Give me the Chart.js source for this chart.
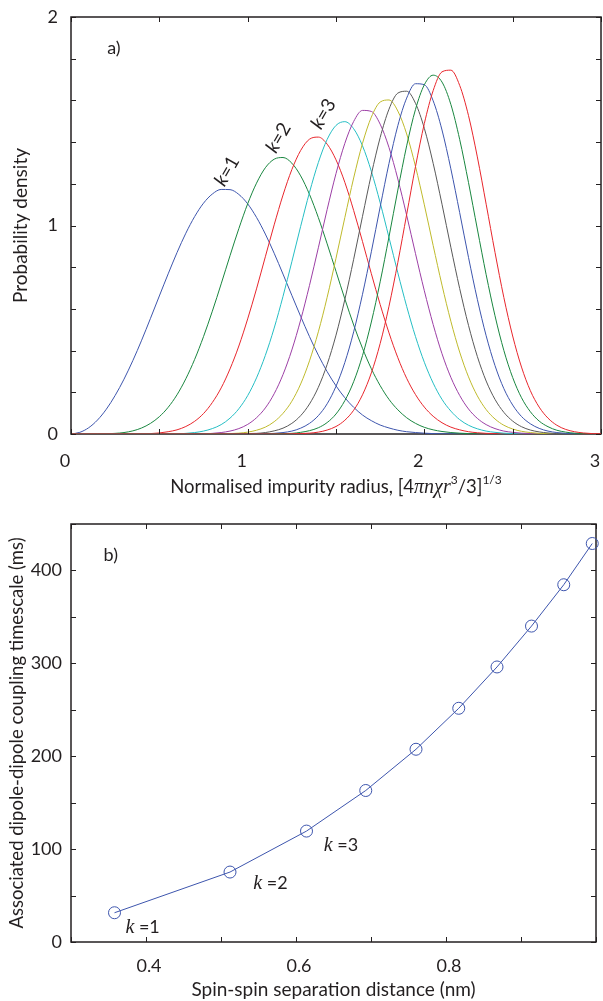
<!DOCTYPE html>
<html>
<head>
<meta charset="utf-8">
<script src="https://cdn.jsdelivr.net/npm/chart.js@4.4.1/dist/chart.umd.min.js"></script>
<style>
  html, body { margin: 0; padding: 0; background: #fff; }
  #wrap { position: relative; width: 603px; height: 1001px; }
  #top { position: absolute; left: 0; top: 0; }
  #bottom { position: absolute; left: 0; top: 500px; }
</style>
</head>
<body>
<div id="wrap">
  <canvas id="top" width="603" height="500"></canvas>
  <canvas id="bottom" width="603" height="501"></canvas>
</div>
<script>
// Panel a): probability density of the k-th nearest impurity
var radius = [
  0, 0.05, 0.1, 0.15, 0.2, 0.25, 0.3, 0.35, 0.4, 0.45,
  0.5, 0.55, 0.6, 0.65, 0.7, 0.75, 0.8, 0.85, 0.9, 0.95,
  1, 1.05, 1.1, 1.15, 1.2, 1.25, 1.3, 1.35, 1.4, 1.45,
  1.5, 1.55, 1.6, 1.65, 1.7, 1.75, 1.8, 1.85, 1.9, 1.95,
  2, 2.05, 2.1, 2.15, 2.2, 2.25, 2.3, 2.35, 2.4, 2.45,
  2.5, 2.55, 2.6, 2.65, 2.7, 2.75, 2.8, 2.85, 2.9, 2.95,
  3
];
var k1 = [
  0, 0.008, 0.030, 0.067, 0.119, 0.185, 0.263, 0.352, 0.450, 0.555,
  0.662, 0.768, 0.870, 0.963, 1.043, 1.107, 1.151, 1.173, 1.172, 1.149,
  1.104, 1.039, 0.959, 0.867, 0.767, 0.665, 0.564, 0.467, 0.378, 0.299,
  0.231, 0.174, 0.128, 0.091, 0.064, 0.043, 0.029, 0.018, 0.011, 0.007,
  0.004, 0.002, 0.001, 0.001, 0, 0, 0, 0, 0, 0,
  0, 0, 0, 0, 0, 0, 0, 0, 0, 0,
  0
];
var k2 = [
  0, 0, 0, 0, 0.001, 0.003, 0.007, 0.015, 0.029, 0.051,
  0.083, 0.128, 0.188, 0.265, 0.358, 0.467, 0.589, 0.720, 0.855, 0.985,
  1.104, 1.203, 1.277, 1.318, 1.326, 1.299, 1.238, 1.149, 1.038, 0.912,
  0.780, 0.648, 0.523, 0.411, 0.313, 0.232, 0.166, 0.116, 0.078, 0.051,
  0.032, 0.020, 0.012, 0.007, 0.004, 0.002, 0.001, 0, 0, 0,
  0, 0, 0, 0, 0, 0, 0, 0, 0, 0,
  0
];
var k3 = [
  0, 0, 0, 0, 0, 0, 0, 0, 0.001, 0.002,
  0.005, 0.011, 0.020, 0.036, 0.061, 0.098, 0.151, 0.221, 0.312, 0.422,
  0.552, 0.696, 0.850, 1.003, 1.146, 1.268, 1.360, 1.414, 1.424, 1.390,
  1.315, 1.207, 1.072, 0.923, 0.769, 0.621, 0.485, 0.366, 0.267, 0.189,
  0.129, 0.085, 0.054, 0.033, 0.020, 0.011, 0.006, 0.003, 0.002, 0.001,
  0, 0, 0, 0, 0, 0, 0, 0, 0, 0,
  0
];
var k4 = [
  0, 0, 0, 0, 0, 0, 0, 0, 0, 0,
  0, 0.001, 0.001, 0.003, 0.007, 0.014, 0.026, 0.045, 0.076, 0.121,
  0.184, 0.269, 0.377, 0.508, 0.660, 0.826, 0.996, 1.159, 1.302, 1.413,
  1.480, 1.498, 1.464, 1.382, 1.260, 1.109, 0.942, 0.773, 0.612, 0.467,
  0.344, 0.244, 0.166, 0.110, 0.069, 0.042, 0.025, 0.014, 0.008, 0.004,
  0.002, 0.001, 0, 0, 0, 0, 0, 0, 0, 0,
  0
];
var k5 = [
  0, 0, 0, 0, 0, 0, 0, 0, 0, 0,
  0, 0, 0, 0, 0.001, 0.001, 0.003, 0.007, 0.014, 0.026,
  0.046, 0.078, 0.125, 0.193, 0.285, 0.403, 0.547, 0.713, 0.893, 1.077,
  1.249, 1.394, 1.499, 1.552, 1.547, 1.486, 1.374, 1.223, 1.049, 0.865,
  0.687, 0.525, 0.385, 0.272, 0.185, 0.120, 0.075, 0.045, 0.026, 0.014,
  0.008, 0.004, 0.002, 0.001, 0, 0, 0, 0, 0, 0,
  0
];
var k6 = [
  0, 0, 0, 0, 0, 0, 0, 0, 0, 0,
  0, 0, 0, 0, 0, 0, 0, 0.001, 0.002, 0.004,
  0.009, 0.018, 0.033, 0.059, 0.099, 0.157, 0.240, 0.351, 0.490, 0.656,
  0.843, 1.038, 1.228, 1.394, 1.520, 1.592, 1.602, 1.549, 1.439, 1.283,
  1.099, 0.904, 0.714, 0.541, 0.393, 0.274, 0.183, 0.117, 0.072, 0.042,
  0.024, 0.013, 0.007, 0.003, 0.002, 0.001, 0, 0, 0, 0,
  0
];
var k7 = [
  0, 0, 0, 0, 0, 0, 0, 0, 0, 0,
  0, 0, 0, 0, 0, 0, 0, 0, 0, 0.001,
  0.002, 0.003, 0.007, 0.015, 0.028, 0.051, 0.088, 0.144, 0.224, 0.334,
  0.474, 0.645, 0.838, 1.044, 1.245, 1.422, 1.558, 1.635, 1.644, 1.586,
  1.466, 1.298, 1.102, 0.896, 0.698, 0.521, 0.372, 0.254, 0.166, 0.104,
  0.062, 0.035, 0.019, 0.010, 0.005, 0.002, 0.001, 0, 0, 0,
  0
];
var k8 = [
  0, 0, 0, 0, 0, 0, 0, 0, 0, 0,
  0, 0, 0, 0, 0, 0, 0, 0, 0, 0,
  0, 0.001, 0.001, 0.003, 0.007, 0.014, 0.028, 0.051, 0.088, 0.145,
  0.229, 0.343, 0.490, 0.670, 0.874, 1.089, 1.298, 1.479, 1.611, 1.680,
  1.675, 1.598, 1.458, 1.272, 1.062, 0.847, 0.646, 0.471, 0.328, 0.218,
  0.139, 0.084, 0.049, 0.027, 0.014, 0.007, 0.003, 0.002, 0.001, 0,
  0
];
var k9 = [
  0, 0, 0, 0, 0, 0, 0, 0, 0, 0,
  0, 0, 0, 0, 0, 0, 0, 0, 0, 0,
  0, 0, 0, 0.001, 0.002, 0.003, 0.008, 0.016, 0.030, 0.055,
  0.096, 0.160, 0.251, 0.376, 0.537, 0.730, 0.946, 1.170, 1.382, 1.557,
  1.675, 1.721, 1.688, 1.581, 1.413, 1.206, 0.983, 0.764, 0.567, 0.401,
  0.271, 0.174, 0.107, 0.062, 0.035, 0.018, 0.009, 0.004, 0.002, 0.001,
  0
];
var k10 = [
  0, 0, 0, 0, 0, 0, 0, 0, 0, 0,
  0, 0, 0, 0, 0, 0, 0, 0, 0, 0,
  0, 0, 0, 0, 0, 0.001, 0.002, 0.004, 0.009, 0.019,
  0.036, 0.066, 0.114, 0.188, 0.293, 0.434, 0.613, 0.823, 1.053, 1.283,
  1.489, 1.647, 1.737, 1.745, 1.672, 1.527, 1.329, 1.102, 0.871, 0.655,
  0.470, 0.321, 0.208, 0.129, 0.076, 0.042, 0.022, 0.011, 0.005, 0.002,
  0.001
];
var densities = [k1, k2, k3, k4, k5, k6, k7, k8, k9, k10];
var curveColors = ['#3d55ad', '#19863f', '#e8262c', '#25bec4', '#9c3fa5',
                   '#bfba2c', '#595959', '#3d55ad', '#19863f', '#e8262c'];

// Panel b): coupling timescale for k = 1..10
var separation = [0.358, 0.512, 0.614, 0.693, 0.760, 0.817, 0.868, 0.914, 0.957, 0.995];
var timescale = [31.5, 75.3, 119.4, 163.1, 207.5, 251.6, 296.1, 340.1, 384.6, 429.0];

var SANS = 'Lato, "Open Sans", sans-serif';
var SERIF = '"Liberation Serif", "DejaVu Serif", serif';
var INK = '#231f20';
var BLUE = '#3d55ad';

function drawParts(ctx, parts, x, y, rot) {
    ctx.save();
    ctx.translate(x, y);
    if (rot) ctx.rotate(rot * Math.PI / 180);
    ctx.fillStyle = INK;
    ctx.textBaseline = 'alphabetic';
    ctx.textAlign = 'left';
    var w = 0;
    parts.forEach(function (p) { ctx.font = p.f; w += ctx.measureText(p.t).width; });
    var cx = -w / 2;
    parts.forEach(function (p) {
        ctx.font = p.f;
        ctx.fillText(p.t, cx, 6 + (p.dy || 0));
        cx += ctx.measureText(p.t).width;
    });
    ctx.restore();
}

// box, inward tick marks and free text (MATLAB look)
var inkPlugin = {
    id: 'ink',
    beforeDatasetsDraw: function (chart, args, o) {
        var ctx = chart.ctx, a = chart.chartArea;
        ctx.save();
        ctx.strokeStyle = INK;
        ctx.lineWidth = o.box;
        ctx.strokeRect(a.left, a.top, a.right - a.left, a.bottom - a.top);
        ctx.restore();
    },
    afterDraw: function (chart, args, o) {
        var ctx = chart.ctx, a = chart.chartArea;
        var xs = chart.scales.x, ys = chart.scales.y;
        ctx.save();
        ctx.strokeStyle = INK;
        ctx.lineWidth = 1;
        ctx.beginPath();
        xs.ticks.forEach(function (t) {
            var px = Math.round(xs.getPixelForValue(t.value)) + 0.5;
            ctx.moveTo(px, a.bottom); ctx.lineTo(px, a.bottom - o.tick);
            ctx.moveTo(px, a.top); ctx.lineTo(px, a.top + o.tick);
        });
        ys.ticks.forEach(function (t) {
            var py = Math.round(ys.getPixelForValue(t.value)) + 0.5;
            ctx.moveTo(a.left, py); ctx.lineTo(a.left + o.tick, py);
            ctx.moveTo(a.right, py); ctx.lineTo(a.right - o.tick, py);
        });
        ctx.stroke();
        ctx.restore();

        o.notes.forEach(function (n) {
            drawParts(ctx, n.parts, xs.getPixelForValue(n.x), ys.getPixelForValue(n.y), n.rot);
        });
        drawParts(ctx, o.xTitle, (a.left + a.right) / 2, o.xTitleY, 0);
        drawParts(ctx, o.yTitle, o.yTitleX, (a.top + a.bottom) / 2, -90);
    }
};

function tickFont() {
    return { family: SANS, size: 18 };
}

function kLabel(n, serif) {
    if (serif) {
        return [{ t: 'k', f: 'italic 20px ' + SERIF }, { t: ' =' + n, f: '18px ' + SANS }];
    }
    return [{ t: 'k', f: 'italic 19px ' + SANS }, { t: '=' + n, f: '19px ' + SANS }];
}

function createDensityChart() {
    var datasets = densities.map(function (arr, i) {
        return {
            data: radius.map(function (r, j) { return { x: r, y: arr[j] }; }),
            borderColor: curveColors[i],
            borderWidth: 1,
            pointRadius: 0,
            cubicInterpolationMode: 'monotone',
            order: densities.length - i
        };
    });
    new Chart(document.getElementById('top'), {
        type: 'line',
        data: { datasets: datasets },
        options: {
            responsive: false,
            animation: false,
            layout: { padding: { top: 17, right: 2, left: 0, bottom: 0 } },
            plugins: {
                legend: { display: false },
                tooltip: { enabled: false },
                ink: {
                    box: 1.5,
                    tick: 5,
                    notes: [
                        { x: 0.243, y: 1.851, parts: [{ t: 'a)', f: '18px ' + SANS }] },
                        { x: 0.884, y: 1.261, rot: -60, parts: kLabel(1, false) },
                        { x: 1.175, y: 1.42, rot: -60, parts: kLabel(2, false) },
                        { x: 1.43, y: 1.535, rot: -60, parts: kLabel(3, false) }
                    ],
                    xTitleY: 487,
                    xTitle: [
                        { t: 'Normalised impurity radius, [4', f: '18.5px ' + SANS },
                        { t: '\u03c0n\u03c7r', f: 'italic 20px ' + SERIF },
                        { t: '3', f: '12px ' + SANS, dy: -9 },
                        { t: '/3]', f: '18.5px ' + SANS },
                        { t: '1/3', f: '12px ' + SANS, dy: -9 }
                    ],
                    yTitleX: 21,
                    yTitle: [{ t: 'Probability density', f: '19px ' + SANS }]
                }
            },
            scales: {
                x: {
                    type: 'linear', min: 0, max: 3,
                    grid: { display: false, drawTicks: false }, border: { display: false },
                    ticks: {
                        stepSize: 0.5, maxRotation: 0, autoSkip: false,
                        padding: 16, labelOffset: -6, color: INK, font: tickFont(),
                        callback: function (v) { return Math.abs(v - Math.round(v)) < 1e-6 ? Math.round(v) : ''; }
                    },
                    afterFit: function (s) { s.height = 66; s.paddingLeft = 0; s.paddingRight = 0; }
                },
                y: {
                    min: 0, max: 2,
                    grid: { display: false, drawTicks: false }, border: { display: false },
                    ticks: {
                        stepSize: 0.2, autoSkip: false, padding: 13, color: INK, font: tickFont(),
                        callback: function (v) { return Math.abs(v - Math.round(v)) < 1e-6 ? Math.round(v) : ''; }
                    },
                    afterFit: function (s) { s.width = 71; s.paddingTop = 0; s.paddingBottom = 0; }
                }
            }
        },
        plugins: [inkPlugin]
    });
}

function createTimescaleChart() {
    new Chart(document.getElementById('bottom'), {
        type: 'line',
        data: {
            datasets: [{
                data: separation.map(function (d, i) { return { x: d, y: timescale[i] }; }),
                borderColor: BLUE,
                borderWidth: 1,
                pointStyle: 'circle',
                pointRadius: 6,
                pointBorderWidth: 1,
                pointBorderColor: BLUE,
                pointBackgroundColor: 'rgba(0,0,0,0)',
                tension: 0,
                clip: false
            }]
        },
        options: {
            responsive: false,
            animation: false,
            layout: { padding: { top: 24, right: 2, left: 0, bottom: 0 } },
            plugins: {
                legend: { display: false },
                tooltip: { enabled: false },
                ink: {
                    box: 1.5,
                    tick: 5,
                    notes: [
                        { x: 0.353, y: 416.7, parts: [{ t: 'b)', f: '18px ' + SANS }] },
                        { x: 0.3955, y: 15.8, parts: kLabel(1, true) },
                        { x: 0.566, y: 63.3, parts: kLabel(2, true) },
                        { x: 0.66, y: 104.4, parts: kLabel(3, true) }
                    ],
                    xTitleY: 490,
                    xTitle: [{ t: 'Spin-spin separation distance (nm)', f: '19px ' + SANS }],
                    yTitleX: 17,
                    yTitle: [{ t: 'Associated dipole-dipole coupling timescale (ms)', f: '18.5px ' + SANS }]
                }
            },
            scales: {
                x: {
                    type: 'linear', min: 0.3, max: 1,
                    grid: { display: false, drawTicks: false }, border: { display: false },
                    ticks: {
                        stepSize: 0.1, maxRotation: 0, autoSkip: false,
                        padding: 13, labelOffset: 3, color: INK, font: tickFont(),
                        callback: function (v) {
                            var r = Math.round(v * 10);
                            return (r % 2 === 0 && r < 10) ? String(r / 10) : '';
                        }
                    },
                    afterFit: function (s) { s.height = 59; s.paddingLeft = 0; s.paddingRight = 0; }
                },
                y: {
                    min: 0, max: 450,
                    grid: { display: false, drawTicks: false }, border: { display: false },
                    ticks: {
                        stepSize: 50, autoSkip: false, padding: 9, color: INK, font: tickFont(),
                        callback: function (v) { return v % 100 === 0 ? v : ''; }
                    },
                    afterFit: function (s) { s.width = 71; s.paddingTop = 0; s.paddingBottom = 0; }
                }
            }
        },
        plugins: [inkPlugin]
    });
}

document.addEventListener('DOMContentLoaded', function () {
    createDensityChart();
    createTimescaleChart();
});
</script>
</body>
</html>
